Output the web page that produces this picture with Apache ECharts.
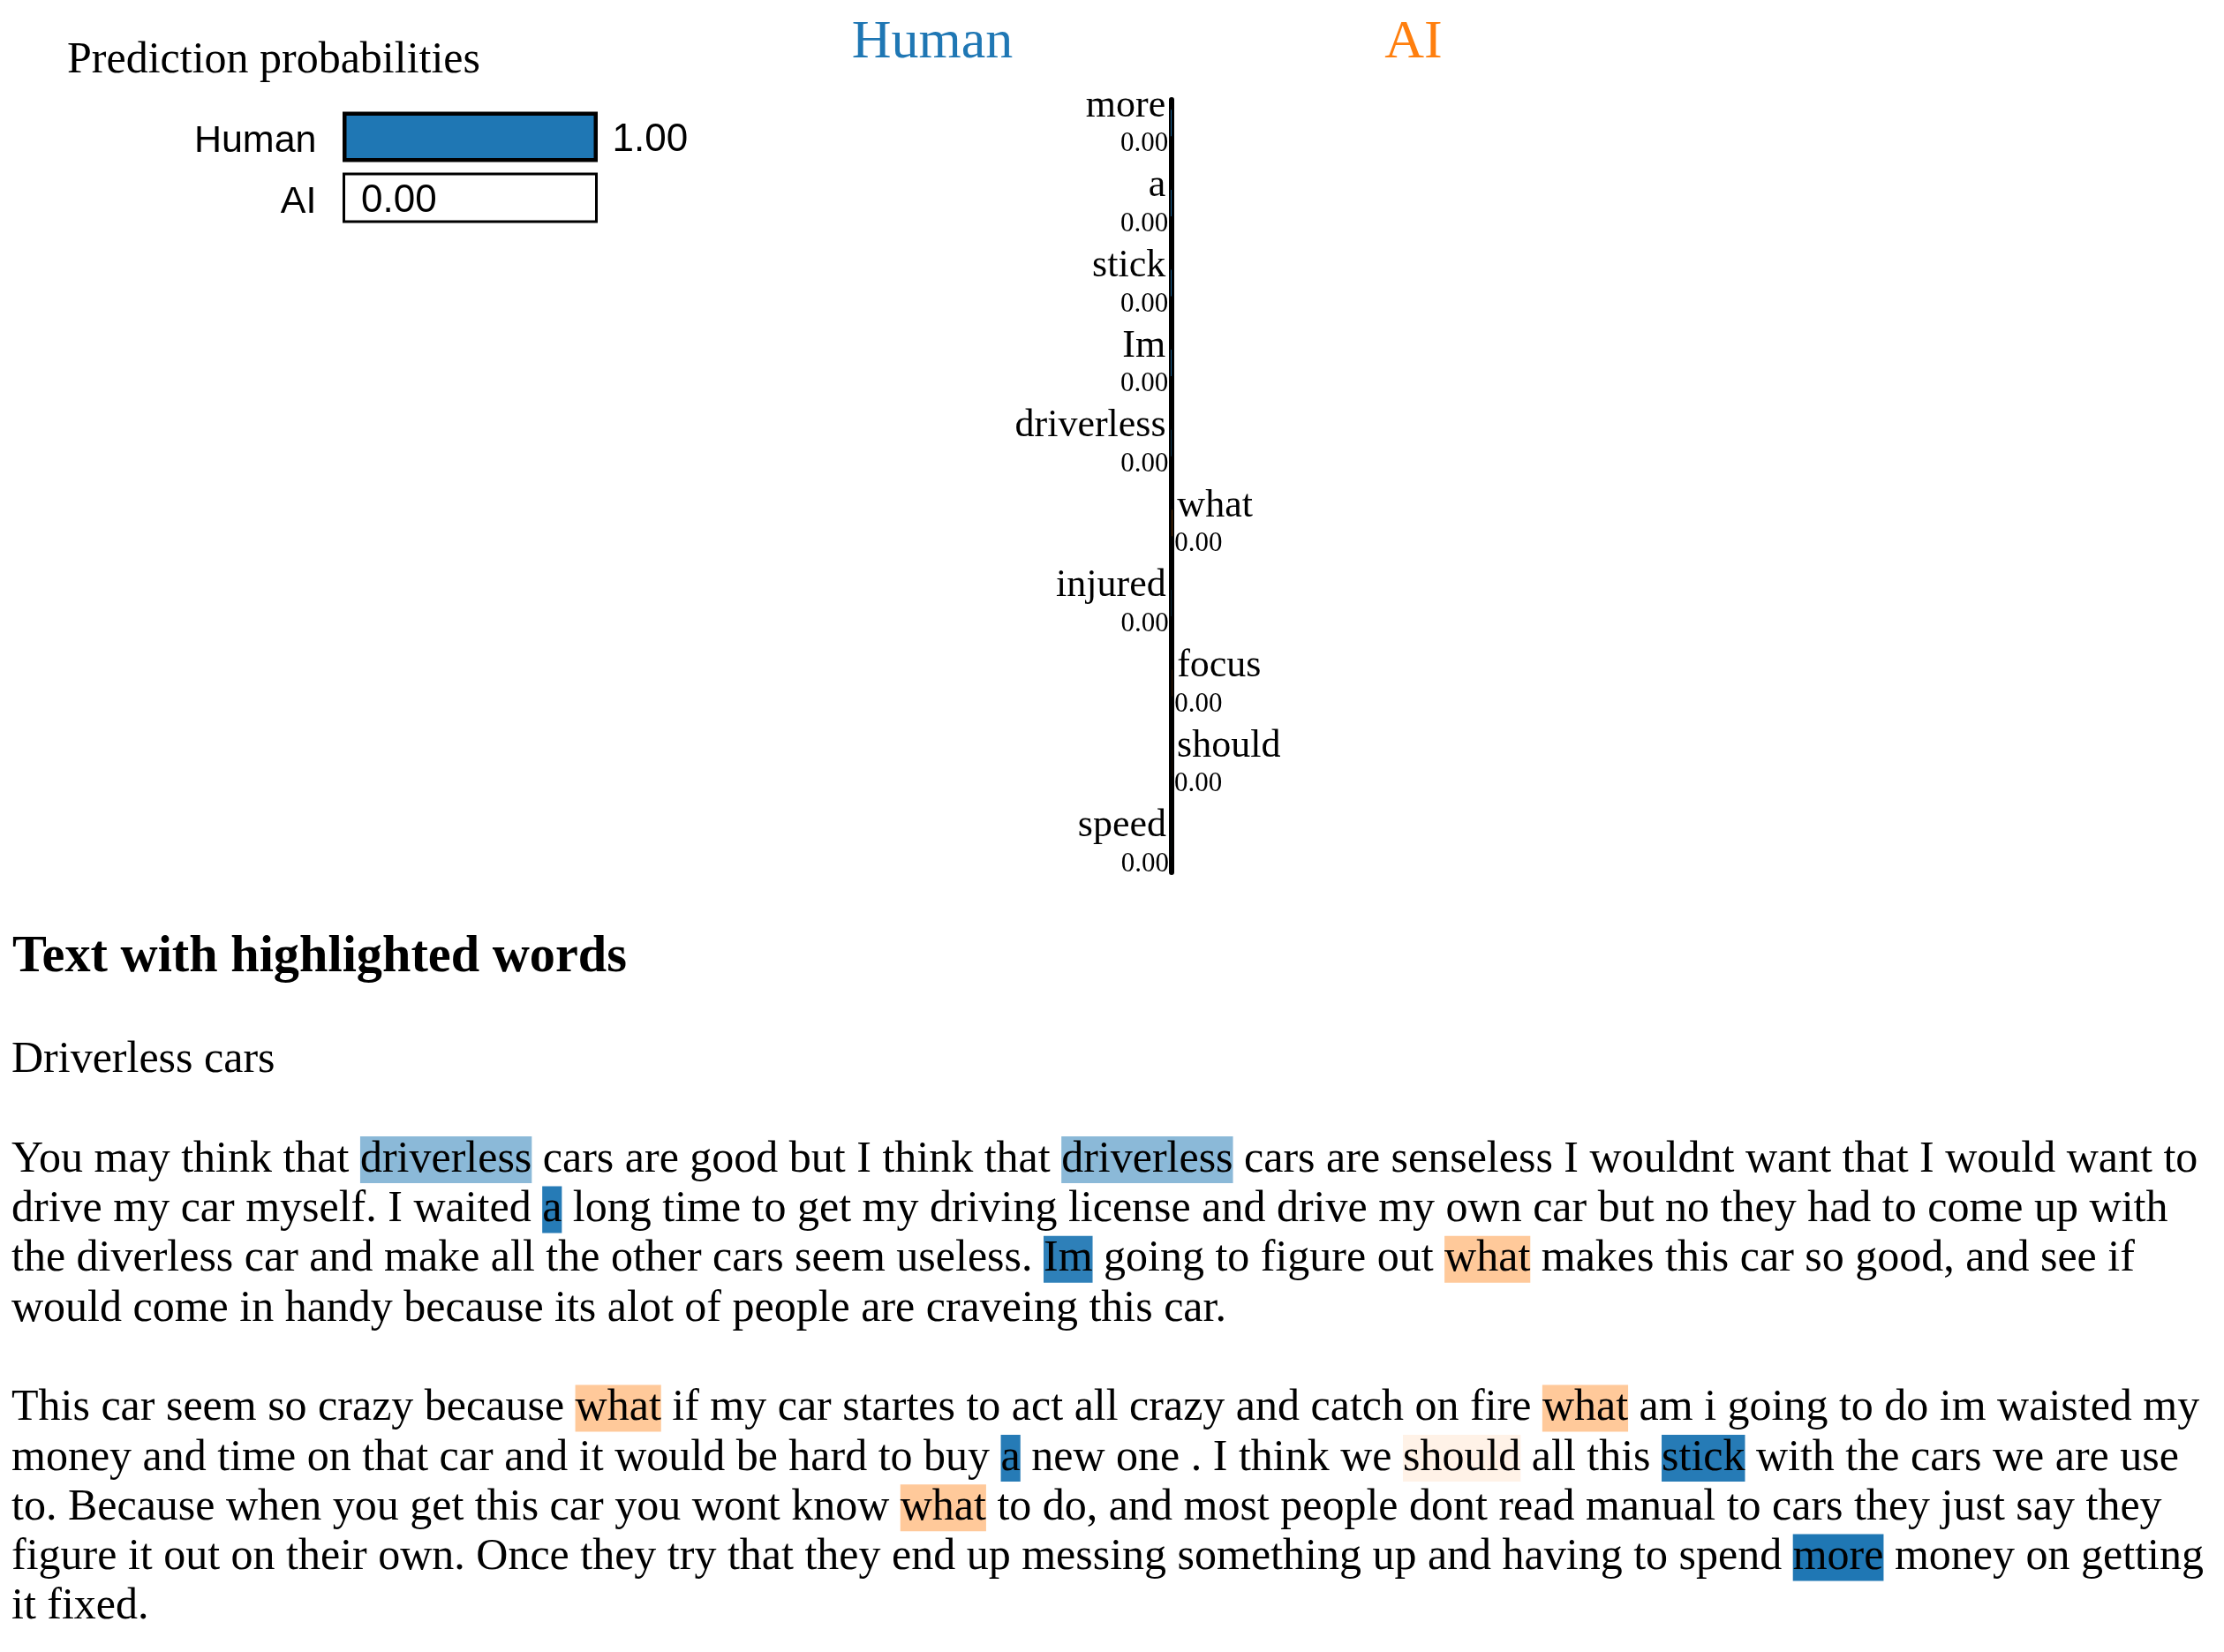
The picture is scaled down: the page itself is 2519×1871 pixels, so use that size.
<!DOCTYPE html>
<html>
<head>
<meta charset="utf-8">
<script src="https://cdn.jsdelivr.net/npm/echarts@6/dist/echarts.min.js"></script>
<style>
  html, body { margin: 0; padding: 0; background: #fff; }
  #main { width: 2519px; height: 1871px; }
</style>
</head>
<body>
<div id="main"></div>
<script>
var classNames = ['Human', 'AI'];
var classProbs = [1.00, 0.00];
var classColors = ['#1f77b4', '#ff7f0e'];

// word weights for class AI (negative = pushes to Human)
var featureWords = ['more', 'a', 'stick', 'Im', 'driverless', 'what', 'injured', 'focus', 'should', 'speed'];
var featureWeights = [-0.0031, -0.0030, -0.0030, -0.0029, -0.0016, 0.0013, -0.0010, 0.0007, 0.0003, -0.0002];

var docTitle = 'Driverless cars';
var para1 = [
  'You may think that [driverless] cars are good but I think that [driverless] cars are senseless I wouldnt want that I would want to',
  'drive my car myself. I waited [a] long time to get my driving license and drive my own car but no they had to come up with',
  'the diverless car and make all the other cars seem useless. [Im] going to figure out [what] makes this car so good, and see if',
  'would come in handy because its alot of people are craveing this car.'
];
var para2 = [
  'This car seem so crazy because [what] if my car startes to act all crazy and catch on fire [what] am i going to do im waisted my',
  'money and time on that car and it would be hard to buy [a] new one . I think we [should] all this [stick] with the cars we are use',
  'to. Because when you get this car you wont know [what] to do, and most people dont read manual to cars they just say they',
  'figure it out on their own. Once they try that they end up messing something up and having to spend [more] money on getting',
  'it fixed.'
];

var serif = 'Liberation Serif';
var sans = 'Liberation Sans';

(function() {
  var chart = echarts.init(document.getElementById('main'), null, { renderer: 'canvas' });

  var maxAbs = Math.max.apply(null, featureWeights.map(Math.abs));
  function hexAlpha(hex, a) {
    var n = parseInt(hex.slice(1), 16);
    return 'rgba(' + (n >> 16) + ',' + ((n >> 8) & 255) + ',' + (n & 255) + ',' + a.toFixed(3) + ')';
  }

  // highlight styles for the text, one per feature word
  var lineGap = 56.3;
  var rich = {};
  featureWords.forEach(function(w, i) {
    var wt = featureWeights[i];
    rich['h' + i] = {
      backgroundColor: hexAlpha(wt < 0 ? classColors[0] : classColors[1], Math.abs(wt) / maxAbs),
      height: 53,
      lineHeight: lineGap,
      fontSize: 50,
      fontFamily: serif,
      color: '#000'
    };
  });
  function toRich(line) {
    return line.replace(/\[([^\]]+)\]/g, function(m, w) {
      return '{h' + featureWords.indexOf(w) + '|' + w + '}';
    });
  }

  var graphics = [
    { type: 'text', x: 1056, y: 49, style: { text: classNames[0], fill: classColors[0], font: '62px "' + serif + '"', align: 'center', verticalAlign: 'middle' } },
    { type: 'text', x: 1601, y: 49, style: { text: classNames[1], fill: classColors[1], font: '62px "' + serif + '"', align: 'center', verticalAlign: 'middle' } }
  ];
  var allLines = [docTitle, ''].concat(para1, [''], para2);
  allLines.forEach(function(line, i) {
    if (!line) return;
    graphics.push({
      type: 'text', x: 13, y: 1201 + i * lineGap,
      style: {
        text: toRich(line), rich: rich,
        fontSize: 50, fontFamily: serif, fill: '#000',
        lineHeight: lineGap, align: 'left', verticalAlign: 'middle'
      }
    });
  });

  var featureData = featureWords.map(function(w, i) {
    var wt = featureWeights[i];
    var neg = wt < 0;
    return {
      value: wt,
      itemStyle: { color: neg ? classColors[0] : classColors[1] },
      label: {
        show: true,
        position: neg ? 'left' : 'right',
        distance: 3,
        formatter: '{w|' + w + '}\n{v|' + Math.abs(wt).toFixed(2) + '}',
        rich: {
          w: { fontFamily: serif, fontSize: 44, lineHeight: 48, color: '#000', align: neg ? 'right' : 'left',
               padding: neg ? [0, 3, 0, 0] : [0, 0, 0, 3] },
          v: { fontFamily: serif, fontSize: 31, lineHeight: 38, color: '#000', align: neg ? 'right' : 'left' }
        }
      }
    };
  });

  chart.setOption({
    animation: false,
    backgroundColor: '#fff',
    title: [
      { text: 'Prediction probabilities', left: 76, top: 44, padding: 0,
        textStyle: { fontFamily: serif, fontSize: 50, fontWeight: 'normal', color: '#000', lineHeight: 50 } },
      { text: 'Text with highlighted words', left: 14, top: 1056, padding: 0,
        textStyle: { fontFamily: serif, fontSize: 58.3, fontWeight: 'bold', color: '#000', lineHeight: 58 } }
    ],
    grid: [
      { left: 389.5, top: 120.5, width: 286, height: 138 },
      { left: 1057, top: 94, width: 540, height: 906 },
      { left: 1057, top: 113, width: 540, height: 875 }
    ],
    xAxis: [
      { gridIndex: 0, type: 'value', min: 0, max: 1, show: false },
      { gridIndex: 1, type: 'value', min: -1, max: 1, show: false },
      { gridIndex: 2, type: 'value', min: -1, max: 1, axisLine: { show: false }, axisTick: { show: false },
        axisLabel: { show: false }, splitLine: { show: false } }
    ],
    yAxis: [
      { gridIndex: 0, type: 'category', data: classNames, inverse: true,
        axisLine: { show: false }, axisTick: { show: false },
        axisLabel: {
          margin: 31,
          formatter: function(v) { return '{n|' + v + '}'; },
          rich: { n: { fontFamily: sans, fontSize: 43, color: '#000', padding: [10, 0, 0, 0] } }
        } },
      { gridIndex: 1, type: 'category', data: featureWords, inverse: true, show: false },
      { gridIndex: 2, type: 'value', min: 0, max: 1,
        axisLine: { show: true, onZero: true, lineStyle: { color: '#000', width: 6 } },
        axisTick: { show: false }, axisLabel: { show: false }, splitLine: { show: false } }
    ],
    series: [
      {
        type: 'bar', xAxisIndex: 0, yAxisIndex: 0, barWidth: 54,
        data: classProbs.map(function(p, i) {
          return { value: p, itemStyle: { color: classColors[i], borderColor: '#000', borderWidth: 3 } };
        }),
        showBackground: true,
        backgroundStyle: { color: '#fff', borderColor: '#000', borderWidth: 3 },
        label: {
          show: true, position: 'right', distance: 18, offset: [0, 4],
          fontFamily: sans, fontSize: 44, color: '#000',
          formatter: function(p) { return p.value.toFixed(2); }
        }
      },
      {
        type: 'bar', xAxisIndex: 1, yAxisIndex: 1, barWidth: 30,
        data: featureData
      }
    ],
    graphic: graphics
  });
  window.addEventListener('resize', function() { chart.resize(); });
})();
</script>
</body>
</html>
